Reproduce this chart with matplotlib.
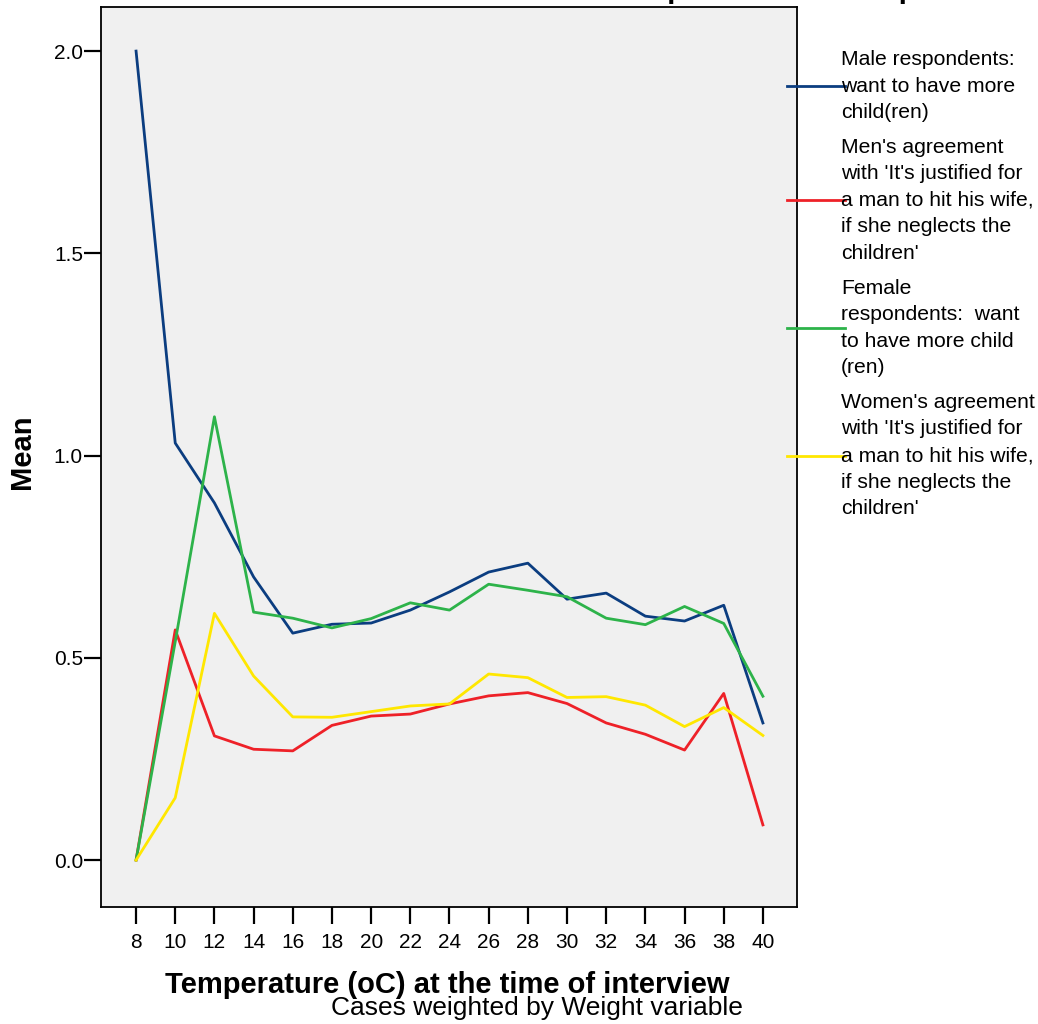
import matplotlib
matplotlib.use("Agg")
import matplotlib.pyplot as plt

plt.rcParams['font.family'] = ['Liberation Sans', 'DejaVu Sans']

temps = [8, 10, 12, 14, 16, 18, 20, 22, 24, 26, 28, 30, 32, 34, 36, 38, 40]
male_want = [2.0, 1.031, 0.883, 0.700, 0.561, 0.583, 0.586, 0.618, 0.663, 0.712,
             0.734, 0.645, 0.660, 0.603, 0.591, 0.630, 0.339]
men_agree = [0.0, 0.569, 0.307, 0.274, 0.270, 0.333, 0.356, 0.361, 0.386, 0.406,
             0.414, 0.387, 0.339, 0.311, 0.272, 0.412, 0.087]
female_want = [0.0, 0.54, 1.096, 0.613, 0.598, 0.574, 0.597, 0.636, 0.618, 0.682,
               0.667, 0.651, 0.598, 0.582, 0.627, 0.585, 0.405]
women_agree = [0.0, 0.154, 0.610, 0.455, 0.354, 0.353, 0.367, 0.381, 0.386, 0.460,
               0.451, 0.402, 0.404, 0.383, 0.330, 0.377, 0.308]

labels = [
    "Male respondents:\nwant to have more\nchild(ren)",
    "Men's agreement\nwith 'It's justified for\na man to hit his wife,\nif she neglects the\nchildren'",
    "Female\nrespondents:  want\nto have more child\n(ren)",
    "Women's agreement\nwith 'It's justified for\na man to hit his wife,\nif she neglects the\nchildren'",
]
colors = ["#0b3d80", "#ee2128", "#2db34a", "#ffe700"]
yticks = [0.0, 0.5, 1.0, 1.5, 2.0]

W, H = 1038, 1024
fig = plt.figure(figsize=(W / 100, H / 100), dpi=100)
ax = fig.add_axes([101 / W, 1 - 907 / H, (797 - 101) / W, (907 - 7) / H])
ax.set_facecolor("#f0f0f0")

series = [male_want, men_agree, female_want, women_agree]
handles = []
for s, c, lab in zip(series, colors, labels):
    h, = ax.plot(temps, s, color=c, lw=2.0, label=lab)
    handles.append(h)

ax.set_xlim(6.21, 41.74)
ax.set_ylim(-0.116, 2.109)
ax.set_xticks(temps)
ax.set_xticklabels([str(t) for t in temps])
ax.set_yticks(yticks)
ax.set_yticklabels([f"{v:.1f}" for v in yticks])
ax.tick_params(axis='both', labelsize=15, length=12, width=1.6, direction='out')
ax.tick_params(axis='x', pad=7)
ax.tick_params(axis='y', pad=1)
for sp in ax.spines.values():
    sp.set_linewidth(1.3)

fig.text(447 / W, 1 - 985 / H, "Temperature (oC) at the time of interview",
         fontsize=21, fontweight='bold', ha='center', va='center')
fig.text(22 / W, 1 - 452 / H, "Mean", fontsize=21, fontweight='bold',
         ha='center', va='center', rotation=90)
fig.text(537 / W, 1 - 1008 / H, "Cases weighted by Weight variable",
         fontsize=19, ha='center', va='center')
fig.text(644 / W, 1 + 10 / H, "Chart 9: Male and female respondents vs temperature",
         fontsize=21, fontweight='bold', ha='center', va='center')

leg = fig.legend(handles=handles, labels=labels, loc='upper left',
                 bbox_to_anchor=(787 / W, 1 - 50 / H), frameon=False,
                 fontsize=15.2, handlelength=2.75, handletextpad=-0.2,
                 labelspacing=0.75, borderpad=0, borderaxespad=0)
for line in leg.get_lines():
    line.set_linewidth(2.0)
for t in leg.get_texts():
    t.set_linespacing(1.5)

fig.savefig("out.png", dpi=100)
